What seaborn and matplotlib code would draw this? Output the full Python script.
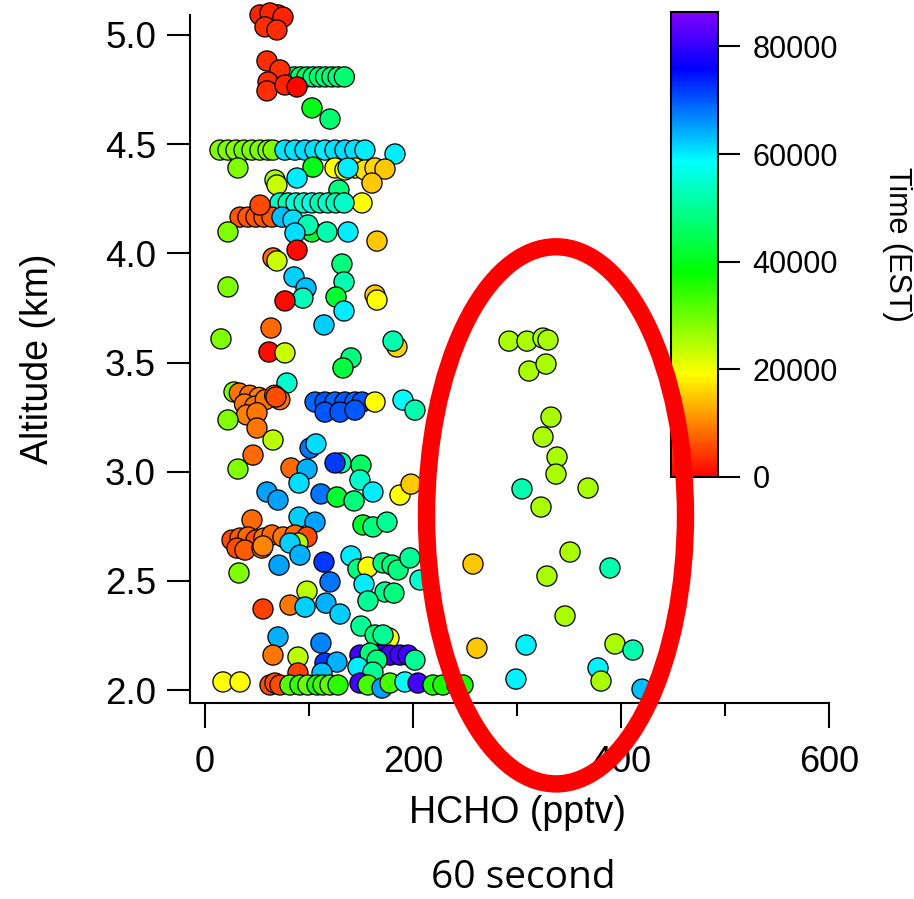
"""HCHO vs altitude scatter, coloured by time of day (60 s averages)."""
import matplotlib
matplotlib.use("Agg")
import matplotlib.pyplot as plt
import numpy as np
import pandas as pd
import seaborn as sns
from matplotlib.colors import LinearSegmentedColormap, Normalize
from matplotlib.patches import Ellipse
from matplotlib.cm import ScalarMappable

# ---- data ---------------------------------------------------------------
hcho_pptv = [
    # ~5 km legs
    52.9, 70.2, 62.5, 75.0, 57.7, 69.2,
    86, 92, 98, 104, 110, 116, 122, 128, 134,
    59.6, 72.1, 60.6, 59.6, 76.9, 88.5,
    102.9, 120.2,
    # 4.5 km leg
    14.4, 22.1, 29.8, 37.5, 45.2, 52.9, 60.6, 65.4,
    76.9, 86.5, 96.2, 105.8, 115.4, 125, 134.6, 144.2, 153.8, 182.7,
    31.7, 103.8, 125, 134.6, 144.2, 153.8, 163.5, 173.1, 137.5,
    67.3, 88.5, 69.2, 128.8, 160.6, 151.0,
    # 4.2 km leg
    72.1, 80, 87.5, 95.2, 102.9, 110.6, 118.3, 126, 133.7,
    33.7, 41.3, 49, 56.7, 64.4, 52.9, 74.0, 84.6, 102.9, 99.0, 86.5,
    117.3, 137.5, 165.4, 22.1, 88.5, 65.4, 69.2, 131.7, 133.7, 85.6,
    97.1, 94.2, 76.9, 126.0, 133.7, 163.5, 165.4, 22.1, 114.4, 63.5,
    15.4, 184.6, 180.8, 61.5, 76.9, 140.4, 132.7, 78.8, 27.9,
    # 3.3 km leg
    33, 43, 52, 38, 48, 58, 67, 72, 40, 50, 68.3,
    22.1, 50.0, 65.4, 46.2, 31.7, 82.7, 98.1, 90.4,
    105.8, 115.4, 125, 134.6, 144.2, 151, 115.4, 129.8, 144.2,
    163.5, 190.4, 201.9, 101.0, 106.7, 130.8, 125.0, 150.0, 149.0, 161.5,
    111.5, 126.9, 143.3, 59.6, 70.2, 187.5, 198.1, 45.2, 90.4, 105.8,
    151.9, 161.5, 175.0,
    # 2.7 km leg
    26, 33.7, 41.3, 49, 56.7, 64.4, 30.8, 38.5, 54.8, 75, 86.5, 98.1,
    55.8, 89.4, 81.7, 91.3, 71.2, 32.7, 114.4, 120.2, 140.4, 147.1, 156.7,
    171.2, 179.8, 185.6, 197.1, 206.7, 152.9, 173.1, 181.7, 156.7, 98.1,
    81.7, 96.2, 116.3, 129.8, 55.8, 150.0, 176.9, 163.5, 171.2, 70.2,
    111.5, 65.4, 89.4,
    # 2.1 km leg
    149, 158.7, 168.3, 177.9, 187.5, 195.2,
    158.7, 165.4, 201.9, 115.4, 126.9, 147.1, 161.5, 112.5, 89.4,
    17.3, 33.7, 62.5, 67.3, 72.1, 81.7, 91.3, 99.0, 107.7, 113.5, 120.2,
    127.9, 149.0, 156.7, 170.2, 177.9, 192.3, 204.8, 219.2, 228.8, 242.3,
    248.1,
    # high-HCHO points
    292.3, 309.6, 325.0, 329.8, 311.5, 327.9, 332.7, 325.0, 338.5, 337.5,
    304.8, 323.1, 368.3, 257.7, 351.0, 328.8, 389.4, 346.2, 261.5, 308.7,
    394.2, 411.5, 377.9, 380.8, 299.0, 420.2,
]

altitude_km = [
    5.092, 5.092, 5.101, 5.082, 5.037, 5.023,
    4.808, 4.808, 4.808, 4.808, 4.808, 4.808, 4.808, 4.808, 4.808,
    4.881, 4.840, 4.785, 4.744, 4.771, 4.762,
    4.666, 4.615,
    4.473, 4.473, 4.473, 4.473, 4.473, 4.473, 4.473, 4.473,
    4.473, 4.473, 4.473, 4.473, 4.473, 4.473, 4.473, 4.473, 4.473, 4.455,
    4.391, 4.395, 4.391, 4.382, 4.391, 4.382, 4.391, 4.386, 4.391,
    4.336, 4.345, 4.313, 4.290, 4.322, 4.231,
    4.231, 4.231, 4.231, 4.231, 4.231, 4.231, 4.231, 4.231, 4.231,
    4.166, 4.166, 4.166, 4.166, 4.166, 4.221, 4.166, 4.153, 4.098, 4.130, 4.093,
    4.098, 4.098, 4.056, 4.098, 4.015, 3.979, 3.965, 3.951, 3.869, 3.892,
    3.841, 3.795, 3.782, 3.800, 3.736, 3.809, 3.786, 3.846, 3.672, 3.658,
    3.608, 3.571, 3.598, 3.548, 3.544, 3.521, 3.475, 3.406, 3.365,
    3.36, 3.35, 3.34, 3.31, 3.30, 3.33, 3.35, 3.33, 3.26, 3.27, 3.342,
    3.237, 3.200, 3.145, 3.076, 3.012, 3.017, 3.012, 2.948,
    3.319, 3.319, 3.319, 3.319, 3.319, 3.319, 3.273, 3.273, 3.282,
    3.319, 3.328, 3.282, 3.108, 3.127, 3.040, 3.040, 3.030, 2.962, 2.907,
    2.898, 2.884, 2.866, 2.907, 2.870, 2.893, 2.943, 2.779, 2.792, 2.769,
    2.756, 2.747, 2.769,
    2.687, 2.696, 2.701, 2.687, 2.696, 2.710, 2.650, 2.641, 2.650, 2.701, 2.710, 2.701,
    2.660, 2.673, 2.673, 2.618, 2.572, 2.536, 2.586, 2.495, 2.614, 2.554, 2.563,
    2.582, 2.572, 2.550, 2.605, 2.504, 2.485, 2.449, 2.444, 2.408, 2.453,
    2.389, 2.380, 2.398, 2.348, 2.371, 2.293, 2.238, 2.252, 2.252, 2.243,
    2.215, 2.160, 2.151,
    2.160, 2.160, 2.160, 2.160, 2.160, 2.160,
    2.169, 2.137, 2.137, 2.124, 2.128, 2.105, 2.082, 2.078, 2.078,
    2.037, 2.037, 2.023, 2.032, 2.023, 2.023, 2.023, 2.023, 2.023, 2.023, 2.023,
    2.023, 2.032, 2.023, 2.009, 2.032, 2.037, 2.032, 2.023, 2.023, 2.023,
    2.023,
    3.598, 3.598, 3.612, 3.603, 3.461, 3.493, 3.250, 3.159, 3.067, 2.989,
    2.921, 2.838, 2.925, 2.577, 2.632, 2.522, 2.559, 2.339, 2.192, 2.206,
    2.211, 2.183, 2.101, 2.041, 2.050, 2.004,
]

time_est = [
    3000, 3000, 3000, 3000, 3500, 3500,
    46000, 47000, 46000, 48000, 47000, 48000, 47000, 48000, 47000,
    3500, 3500, 3500, 3500, 3000, 500,
    40000, 47000,
    28500, 29000, 28000, 29500, 28500, 29000, 28000, 28500,
    60500, 60500, 61000, 60500, 60000, 60500, 61000, 60500, 60000, 60000,
    28500, 40000, 19000, 19000, 19500, 17000, 16000, 15000, 60000,
    26000, 60000, 23000, 48000, 15000, 19000,
    54000, 52000, 56000, 54000, 57000, 52000, 55000, 53000, 54000,
    6500, 6500, 6500, 6500, 6500, 5500, 63000, 61000, 42000, 52000, 61000,
    52000, 60000, 15000, 28500, 1000, 8000, 23000, 48000, 52000, 62000,
    63000, 53000, 1000, 42000, 60000, 15000, 19000, 28500, 62000, 8000,
    28500, 16000, 52000, 1000, 23000, 48000, 43000, 55000, 28500,
    9000, 8500, 9500, 9000, 8500, 9000, 8000, 9000, 9500, 9000, 6000,
    28500, 9000, 24000, 8000, 28500, 8000, 64000, 61000,
    69000, 70000, 69000, 70000, 69000, 70000, 70000, 70000, 70000,
    19000, 59000, 52000, 68000, 61000, 52000, 72000, 46000, 55000, 60000,
    68000, 42000, 48000, 65000, 65000, 19000, 15000, 8000, 62000, 65000,
    42000, 48000, 50000,
    6000, 7000, 8000, 6000, 9000, 8000, 6000, 7000, 9000, 9000, 8000, 6000,
    10000, 25000, 62000, 64000, 65000, 28500, 72000, 68000, 60000, 48000, 19000,
    48000, 48000, 48000, 50000, 55000, 60000, 50000, 48000, 50000, 24000,
    9000, 62000, 64000, 62000, 5000, 50000, 19000, 48000, 50000, 64000,
    67000, 9000, 24000,
    81000, 81000, 81000, 81000, 81000, 81000,
    48000, 48000, 50000, 72000, 64000, 60000, 50000, 63000, 5000,
    19000, 19000, 6000, 6000, 6000, 32000, 34000, 30000, 36000, 33000, 31000,
    35000, 81000, 33000, 65000, 33000, 59000, 81000, 36000, 36000, 36000,
    36000,
    25500, 25500, 25500, 25500, 25500, 25500, 25500, 25500, 25500, 25500,
    52000, 25500, 25500, 15000, 25500, 25500, 52000, 25500, 15000, 59500,
    25500, 52000, 59500, 25500, 59500, 63000,
]

x_ticks = [0, 200, 400, 600]
x_minor = [100, 300, 500]
y_ticks = [2.0, 2.5, 3.0, 3.5, 4.0, 4.5, 5.0]
cbar_ticks = [0, 20000, 40000, 60000, 80000]

df = pd.DataFrame({"hcho": hcho_pptv, "alt": altitude_km, "time": time_est})

# Igor-style rainbow: red -> yellow -> green -> cyan -> blue -> violet
rainbow = LinearSegmentedColormap.from_list(
    "igor_rainbow",
    [(0.00, (1.0, 0.0, 0.0)), (0.11, (1.0, 0.5, 0.0)), (0.22, (1.0, 1.0, 0.0)),
     (0.44, (0.0, 1.0, 0.0)), (0.68, (0.0, 1.0, 1.0)), (0.88, (0.0, 0.0, 1.0)),
     (1.00, (0.5, 0.0, 1.0))])
norm = Normalize(vmin=0, vmax=86400)

sns.set_style("ticks")
plt.rcParams["font.family"] = ["Liberation Sans", "DejaVu Sans"]
plt.rcParams.update({"text.color": "black", "axes.labelcolor": "black",
                     "xtick.color": "black", "ytick.color": "black",
                     "axes.edgecolor": "black"})

fig = plt.figure(figsize=(9.14, 8.99), dpi=100)
ax = fig.add_axes([190 / 914, 196 / 899, 639 / 914, 688 / 899])

sns.scatterplot(data=df, x="hcho", y="alt", hue="time", palette=rainbow,
                hue_norm=norm, s=210, edgecolor="black", linewidth=0.9,
                legend=False, ax=ax, clip_on=False, zorder=3)

ax.set_xlim(-14.4, 600)
ax.set_ylim(1.9405, 5.0916)
ax.set_xticks(x_ticks)
ax.set_xticks(x_minor, minor=True)
ax.set_yticks(y_ticks)
ax.set_yticklabels([f"{v:.1f}" for v in y_ticks])
sns.despine(ax=ax)
for side in ("left", "bottom"):
    ax.spines[side].set_linewidth(1.5)
ax.tick_params(axis="x", which="major", direction="out", length=18, width=1.5,
               labelsize=26, pad=12)
ax.tick_params(axis="x", which="minor", direction="out", length=9.5, width=1.5)
ax.tick_params(axis="y", which="major", direction="out", length=16.5, width=1.5,
               labelsize=26.5, pad=8)

ax.set_xlabel("HCHO (pptv)", fontsize=27, va="center")
ax.xaxis.set_label_coords(0.512, -0.16)
ax.set_ylabel("Altitude (km)", fontsize=27, va="center")
ax.yaxis.set_label_coords(-0.238, 0.5)

# colour bar drawn inside the plot area, upper right
cax = fig.add_axes([671 / 914, 422 / 899, 47 / 914, 465 / 899])
sm = ScalarMappable(norm=norm, cmap=rainbow)
cbar = fig.colorbar(sm, cax=cax, ticks=cbar_ticks)
cbar.outline.set_linewidth(1.5)
cax.tick_params(direction="out", length=16, width=1.5, labelsize=22, pad=9)
cax.set_ylabel("Time (EST)", fontsize=22, rotation=-90, va="center", ha="center")
cax.yaxis.set_label_coords(4.81, 0.5)

# red highlight ellipse, drawn on top of everything
fig.add_artist(Ellipse((337.5, 2.80), 249, 2.46, transform=ax.transData,
                       fill=False, edgecolor="#ff0000", lw=12.5, zorder=10))

fig.text(523 / 914, 1 - 888 / 899, "60 second", fontsize=28,
         family=["Open Sans", "DejaVu Sans"], ha="center", va="baseline")

fig.savefig("out.png", dpi=100)
plt.close(fig)
